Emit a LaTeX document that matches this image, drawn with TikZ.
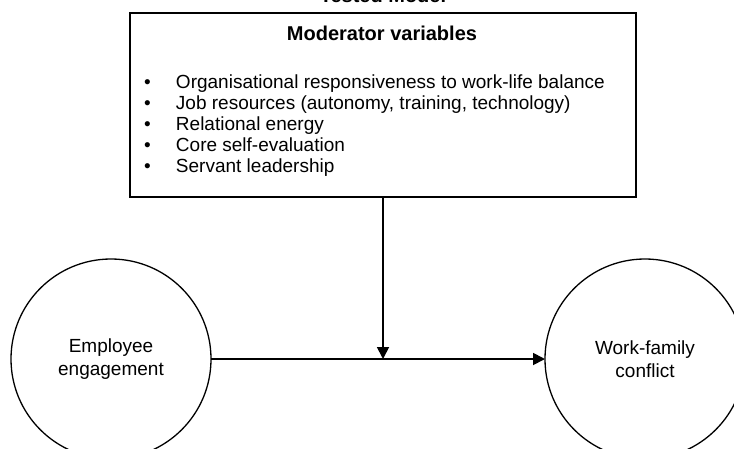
\documentclass[tikz,border=0pt]{standalone}
\usepackage{fontspec}
\setmainfont{Liberation Sans}
\usetikzlibrary{arrows.meta}
\begin{document}
\begin{tikzpicture}[x=1pt,y=-1pt,
  every node/.style={inner sep=0pt, outer sep=0pt},
  varcircle/.style={circle, draw, line width=1.3pt, minimum size=200pt, align=center, font=\fontsize{19}{23}\selectfont},
  modbox/.style={draw, line width=1.6pt},
  conn/.style={line width=1.8pt, -{Triangle[length=12pt,width=12pt]}}]
\useasboundingbox (0,0) rectangle (734,448);
\node[font=\fontsize{20}{24}\selectfont\bfseries, anchor=base] (title) at (383,2) {Tested Model};
\node[modbox, minimum width=506pt, minimum height=184pt, anchor=north west] (box) at (130,13) {};
\node[font=\fontsize{20}{24}\selectfont\bfseries, anchor=base] (modtitle) at (382,40) {Moderator variables};
\node[anchor=base west, font=\fontsize{19}{21}\selectfont] (list) at (144,88) {%
\begin{tabular}[t]{@{}p{32pt}@{}l@{}}
• & Organisational responsiveness to work-life balance\\
• & Job resources (autonomy, training, technology)\\
• & Relational energy\\
• & Core self-evaluation\\
• & Servant leadership
\end{tabular}};
\node[varcircle] (L) at (111,359) {Employee\\engagement};
\node[varcircle] (R) at (645,359) {Work-family\\conflict};
\draw[conn] (L.east) -- (R.west);
\draw[conn] (box.south) -- (box.south |- L.east);
\end{tikzpicture}
\end{document}
